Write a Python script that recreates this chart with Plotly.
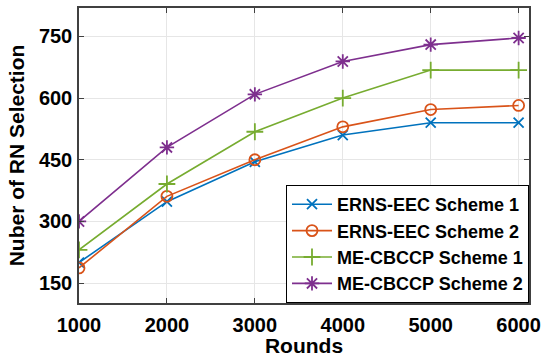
import plotly.graph_objects as go

rounds = [1000, 2000, 3000, 4000, 5000, 6000]
erns_s1 = [200, 348, 445, 510, 540, 540]
erns_s2 = [187, 361, 450, 530, 572, 582]
me_s1 = [231, 391, 518, 600, 668, 668]
me_s2 = [300, 480, 609, 689, 730, 746]

names = ["ERNS-EEC Scheme 1", "ERNS-EEC Scheme 2", "ME-CBCCP Scheme 1", "ME-CBCCP Scheme 2"]
series = [erns_s1, erns_s2, me_s1, me_s2]
colors = ["#0072BD", "#D95319", "#77AC30", "#7E2F8E"]
symbols = ["x-thin-open", "circle-open", "cross-thin-open", "asterisk-open"]
sizes = [10, 11, 12, 12]

x_ticks = [1000, 2000, 3000, 4000, 5000, 6000]
y_ticks = [150, 300, 450, 600, 750]

FONT = "Liberation Sans"

fig = go.Figure()
for n, s, c, m, sz in zip(names, series, colors, symbols, sizes):
    fig.add_trace(go.Scatter(
        x=rounds, y=s, name=n, mode="lines+markers",
        line=dict(color=c, width=1.6),
        marker=dict(symbol=m, size=sz, color=c, line=dict(color=c, width=1.8)),
    ))

axis_common = dict(
    showline=True, linecolor="#404040", linewidth=1.5, mirror="ticks",
    ticks="inside", ticklen=5, tickcolor="#404040", tickwidth=1,
    showgrid=True, gridcolor="#e6e6e6", gridwidth=1, zeroline=False,
    tickfont=dict(family=FONT, size=20, color="#000000", weight="bold"),
)

fig.update_layout(
    width=548, height=357,
    margin=dict(l=79, r=19, t=6, b=54),
    paper_bgcolor="white", plot_bgcolor="white",
    xaxis=dict(range=[1000, 6118], tickvals=x_ticks, ticklabelstandoff=3, **axis_common,
               title=dict(text="Rounds", standoff=1,
                          font=dict(family=FONT, size=21, color="#000000", weight="bold"))),
    yaxis=dict(range=[101.6, 819], tickvals=y_ticks, ticklabelstandoff=1, **axis_common,
               title=dict(text="Nuber of RN Selection", standoff=9,
                          font=dict(family=FONT, size=21, color="#000000", weight="bold"))),
    legend=dict(x=1, y=0, xanchor="right", yanchor="bottom",
                bgcolor="white", bordercolor="#000000", borderwidth=1,
                font=dict(family=FONT, size=18, color="#000000", weight="bold"),
                tracegroupgap=0, itemwidth=40),
    showlegend=True,
)

fig.write_html("out.html")
